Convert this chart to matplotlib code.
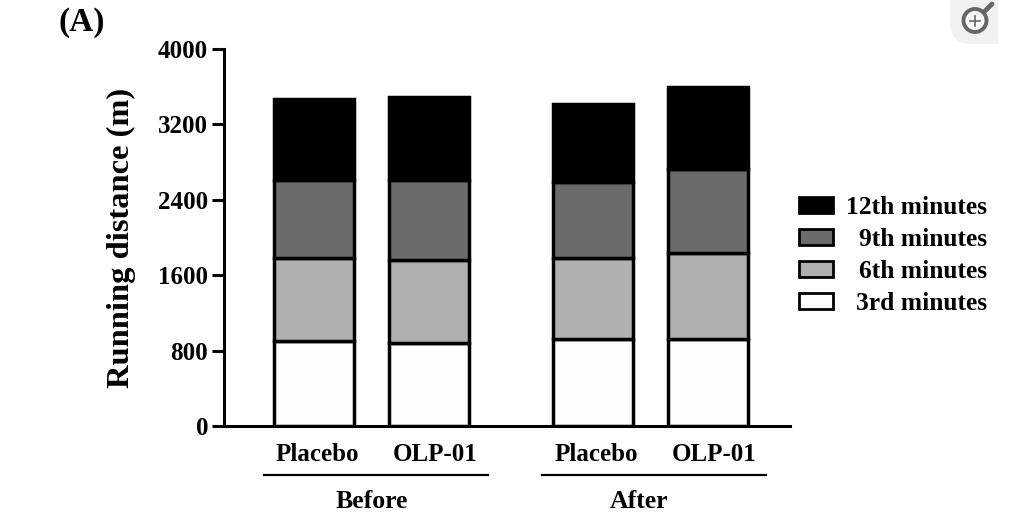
import matplotlib

matplotlib.use("Agg")
import matplotlib.pyplot as plt
from matplotlib.patches import Circle, FancyBboxPatch, Rectangle
from matplotlib.lines import Line2D
from matplotlib.transforms import ScaledTranslation

plt.rcParams["font.family"] = ["Liberation Serif", "DejaVu Serif"]
plt.rcParams["font.weight"] = "bold"

W, H = 1009, 518

# values
conditions = ["Placebo", "OLP-01", "Placebo", "OLP-01"]
groups = ["Before", "After"]
min3 = [902, 880, 923, 923]
min6 = [880, 881, 859, 912]
min9 = [828, 849, 806, 891]
min12 = [860, 881, 829, 871]
series_labels = ["3rd minutes", "6th minutes", "9th minutes", "12th minutes"]
series_colors = ["#fdfdfd", "#b0b0b0", "#6b6b6b", "#000000"]
yticks = [0, 800, 1600, 2400, 3200, 4000]

xpos = [0, 1, 2.426, 3.426]
group_mid = [0.5, 2.926]
label_shift = [3, 6, 3, 6]


def fx(px):
    return px / W


def fy(py):
    return 1 - py / H


fig = plt.figure(figsize=(W / 100, H / 100), dpi=100)
ax = fig.add_axes([fx(224), fy(426), (790 - 224) / W, (426 - 49) / H])

bottom = [0, 0, 0, 0]
for vals, color in zip([min3, min6, min9, min12], series_colors):
    ax.bar(xpos, vals, width=0.695, bottom=bottom, color=color,
           edgecolor="black", linewidth=2.5, zorder=2)
    bottom = [b + v for b, v in zip(bottom, vals)]

ax.set_xlim(-0.783, 4.14)
ax.set_ylim(0, 4000)
ax.set_yticks(yticks)
ax.set_xticks(xpos)
ax.set_xticklabels(conditions)
ax.tick_params(axis="y", length=8.5, width=2.2, labelsize=18, pad=3)
ax.tick_params(axis="x", length=0, labelsize=18, pad=12)
ax.set_ylabel("Running distance (m)", fontsize=23.4, fontweight="bold", labelpad=16)
for side in ("top", "right"):
    ax.spines[side].set_visible(False)
for side in ("left", "bottom"):
    ax.spines[side].set_linewidth(2.2)
ax.spines["bottom"].set_zorder(5)

# the condition labels sit a little right of their bars
for lab, shift in zip(ax.get_xticklabels(), label_shift):
    lab.set_transform(lab.get_transform() + ScaledTranslation(shift / 100, 0, fig.dpi_scale_trans))

# group brackets under the conditions
for mid, name, offset in zip(group_mid, groups, [0, -0.1]):
    x0 = ax.transData.transform((mid + 0.035 - 0.974, 0))[0] / W
    x1 = ax.transData.transform((mid + 0.035 + 0.974, 0))[0] / W
    fig.add_artist(Line2D([x0, x1], [fy(475), fy(475)], color="black", lw=1.6))
    xt = ax.transData.transform((mid + offset, 0))[0] / W
    fig.text(xt, fy(501), name, ha="center", va="center", fontsize=18.5)

fig.text(fx(58), fy(23), "(A)", ha="left", va="center", fontsize=24)

# legend, labels are right aligned in the original
rows = [205, 237, 269, 301]
for row, label, color in zip(rows, series_labels[::-1], series_colors[::-1]):
    fig.add_artist(Rectangle((fx(798.5), fy(row + 8)), 34 / W, 16 / H,
                             transform=fig.transFigure, facecolor=color,
                             edgecolor="black", linewidth=2.0))
    fig.text(fx(987), fy(row + 3), label, ha="right", va="center", fontsize=18.4)

# zoom badge in the top right corner
sq = fig.add_axes([fx(950), fy(44), 48 / W, 44 / H])
sq.set_xlim(950, 998)
sq.set_ylim(44, 0)
sq.axis("off")
sq.add_patch(FancyBboxPatch((950, -30), 80, 74, boxstyle="round,pad=0,rounding_size=22",
                            facecolor="#f1f1f1", edgecolor="none"))
sq.add_patch(Circle((975, 20.5), 11.5, facecolor="#f7f7f7", edgecolor="#666666", lw=2.8, zorder=4))
sq.plot([984, 992], [12, 4], color="#666666", lw=3.4, solid_capstyle="round", zorder=4)
sq.plot([970, 980], [20.5, 20.5], color="#666666", lw=1.2, zorder=5)
sq.plot([975, 975], [15.5, 25.5], color="#666666", lw=1.2, zorder=5)

fig.savefig("out.png", dpi=100)
